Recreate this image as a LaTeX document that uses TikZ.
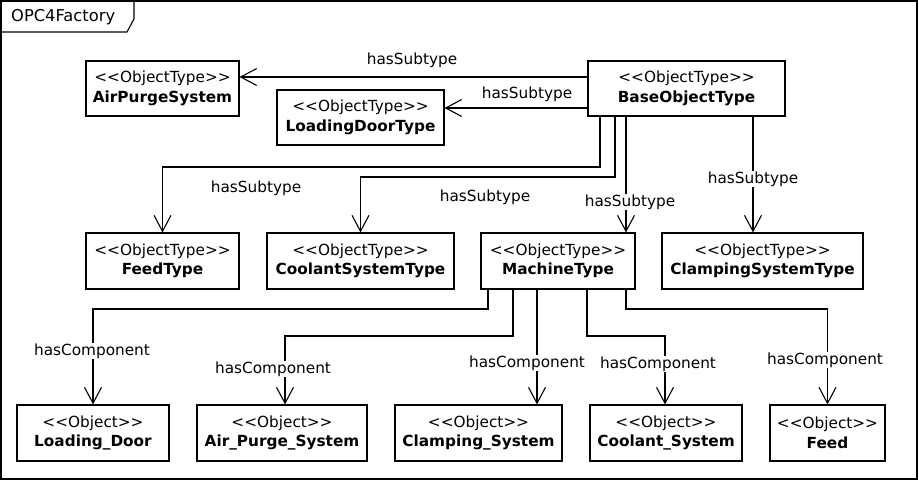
\documentclass[tikz,border=0pt]{standalone}
\usepackage{fontspec}
\setmainfont{DejaVu Sans}
\usetikzlibrary{arrows.meta}
\usetikzlibrary{calc}

\tikzset{
	umlbox/.style={draw, line width=1.1pt, align=center, inner sep=0pt, minimum height=55pt, font=\fontsize{15.3}{19.5}\selectfont},
	rel/.style={line width=1.1pt, -{Straight Barb[length=16pt,width=17pt,line width=1.1pt]}},
	rellabel/.style={fill=white, inner sep=1pt, font=\fontsize{15.3}{18}\selectfont},
}
\newcommand{\stereo}[2]{<{}<#1>{}>\\\textbf{#2}}

\begin{document}
\begin{tikzpicture}[x=1pt, y=-1pt]
	\useasboundingbox (0,0) rectangle (919,481);
	\draw[line width=1.1pt] (1,1) rectangle (917,479);
	\draw[line width=1.1pt] (1,32) -- (127,32) -- (134,19) -- (134,1);
	\node[anchor=west, inner sep=0pt, font=\fontsize{16.3}{18}\selectfont] (frame) at (11,17) {OPC4Factory};
	
	\node[umlbox, minimum width=197pt] (base) at (686.5,88.5) {\stereo{ObjectType}{BaseObjectType}};
	\node[umlbox, minimum width=153pt] (airpurge) at (162.5,88.5) {\stereo{ObjectType}{AirPurgeSystem}};
	\node[umlbox, minimum width=167pt] (loadingdoor) at (360.5,117.5) {\stereo{ObjectType}{LoadingDoorType}};
	
	\node[umlbox, minimum width=153pt, minimum height=56pt] (feedtype) at (162.5,261) {\stereo{ObjectType}{FeedType}};
	\node[umlbox, minimum width=187pt, minimum height=56pt] (coolanttype) at (360.5,261) {\stereo{ObjectType}{CoolantSystemType}};
	\node[umlbox, minimum width=154pt, minimum height=56pt] (machine) at (558,261) {\stereo{ObjectType}{MachineType}};
	\node[umlbox, minimum width=201pt, minimum height=56pt] (clamptype) at (762.5,261) {\stereo{ObjectType}{ClampingSystemType}};
	
	\node[umlbox, minimum width=152pt, minimum height=56pt] (loading) at (93,433) {\stereo{Object}{Loading\_Door}};
	\node[umlbox, minimum width=170pt, minimum height=56pt] (airsys) at (282,433) {\stereo{Object}{Air\_Purge\_System}};
	\node[umlbox, minimum width=167pt, minimum height=56pt] (clampsys) at (478.5,433) {\stereo{Object}{Clamping\_System}};
	\node[umlbox, minimum width=152pt, minimum height=56pt] (coolantsys) at (666,433) {\stereo{Object}{Coolant\_System}};
	\node[umlbox, minimum width=115pt, minimum height=56pt] (feed) at (827.5,433) {\stereo{Object}{Feed}};
	
	% subtypes of BaseObjectType
	\draw[rel] (base.west |- 0,77) -- (airpurge.east |- 0,77);
	\draw[rel] (base.west |- 0,108) -- (loadingdoor.east |- 0,108);
	\draw[rel] (600,0 |- base.south) |- (feedtype.north |- 0,167) -- (feedtype.north);
	\draw[rel] (615,0 |- base.south) |- (coolanttype.north |- 0,177) -- (coolanttype.north);
	\draw[rel] (626,0 |- base.south) -- (626,0 |- machine.north);
	\draw[rel] (753,0 |- base.south) -- (753,0 |- clamptype.north);
	
	\node[rellabel] (st1) at (412,60) {hasSubtype};
	\node[rellabel] (st2) at (527,94) {hasSubtype};
	\node[rellabel] (st3) at (256,188) {hasSubtype};
	\node[rellabel] (st4) at (485,197) {hasSubtype};
	\node[rellabel] (st5) at (630,202) {hasSubtype};
	\node[rellabel] (st6) at (753,179) {hasSubtype};
	
	% components of MachineType
	\draw[rel] (488,0 |- machine.south) |- (loading.north |- 0,309) -- (loading.north);
	\draw[rel] (513,0 |- machine.south) |- (285,336) -- (285,0 |- airsys.north);
	\draw[rel] (537,0 |- machine.south) -- (537,0 |- clampsys.north);
	\draw[rel] (587,0 |- machine.south) |- (665,336) -- (665,0 |- coolantsys.north);
	\draw[rel] (626,0 |- machine.south) |- (feed.north |- 0,309) -- (feed.north);
	
	\node[rellabel] (hc1) at (92,351) {hasComponent};
	\node[rellabel] (hc2) at (273,369) {hasComponent};
	\node[rellabel] (hc3) at (527,363) {hasComponent};
	\node[rellabel] (hc4) at (658,364) {hasComponent};
	\node[rellabel] (hc5) at (825,360) {hasComponent};
\end{tikzpicture}
\end{document}
